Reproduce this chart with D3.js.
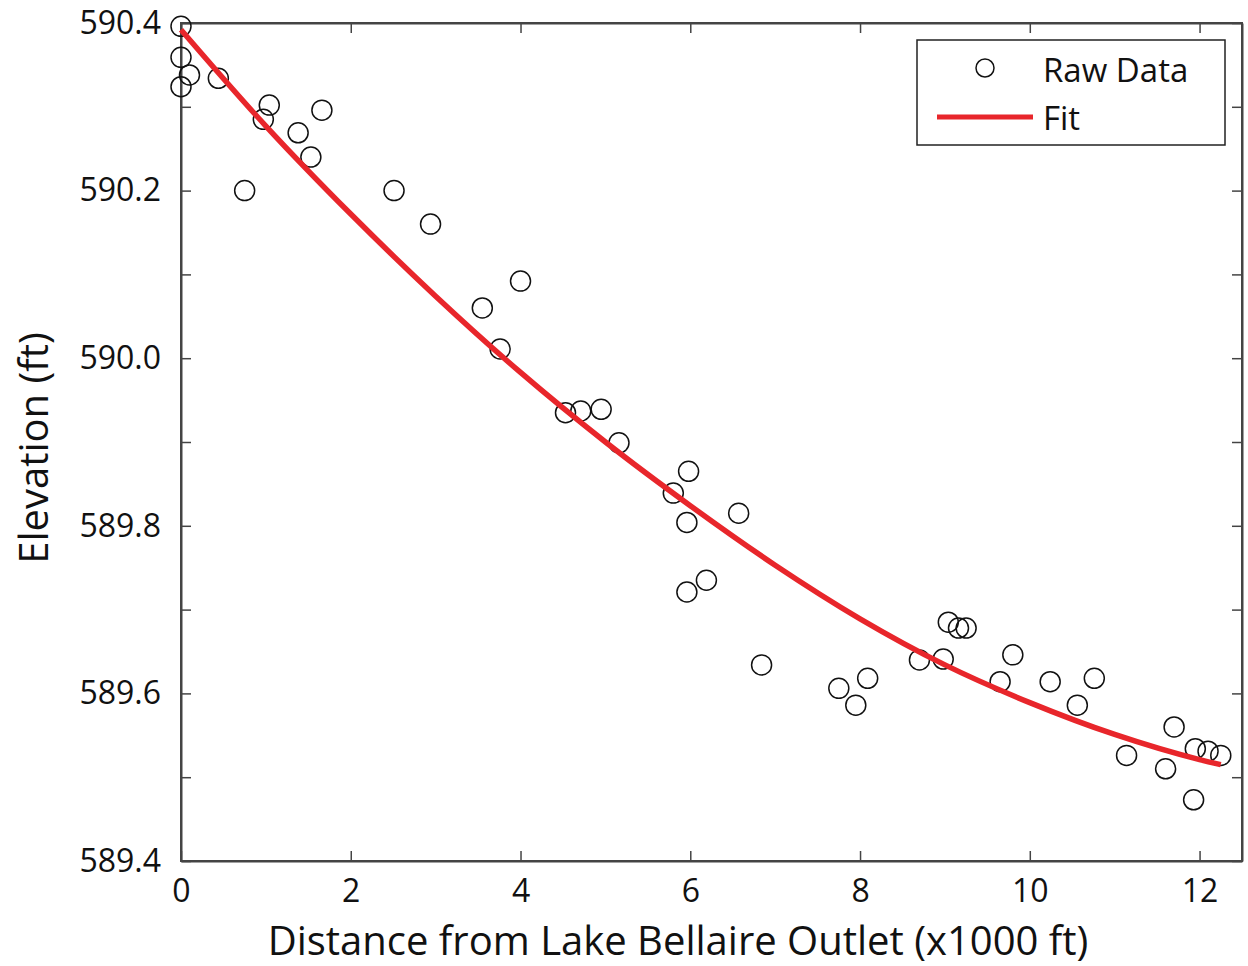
<!DOCTYPE html>
<html>
<head>
<meta charset="utf-8">
<script src="https://cdn.jsdelivr.net/npm/d3@7"></script>
<style>
  body { margin: 0; background: #fff; }
  svg { font-family: "Open Sans", "Noto Sans", sans-serif; }
</style>
</head>
<body>
<svg width="1248" height="966"></svg>
<script>
// Raw survey points (distance x1000 ft, elevation ft)
var rawX = [0, 0, 0.1, 0, 0.44, 1.04, 0.97, 0.75, 1.38, 1.53, 1.66, 2.51, 2.94,
    4.0, 3.55, 3.76, 4.53, 4.71, 4.95, 5.16, 5.8, 5.98, 5.96, 6.57, 5.96, 6.19,
    6.84, 7.75, 7.95, 8.09, 8.7, 8.98, 9.04, 9.16, 9.25, 9.65, 9.8, 10.24, 10.56, 10.76,
    11.14, 11.6, 11.7, 11.93, 11.95, 12.1, 12.25];
var rawY = [590.396, 590.359, 590.338, 590.324, 590.334, 590.302, 590.285, 590.200, 590.269, 590.240, 590.296, 590.200, 590.160,
    590.092, 590.060, 590.011, 589.935, 589.937, 589.939, 589.899, 589.839, 589.865, 589.804, 589.815, 589.721, 589.735,
    589.634, 589.606, 589.586, 589.618, 589.640, 589.641, 589.685, 589.678, 589.678, 589.614, 589.646, 589.614, 589.586, 589.618,
    589.526, 589.510, 589.560, 589.473, 589.534, 589.531, 589.526];

// Fit curve
var fitX = [0, 1, 2, 3, 4, 5, 6, 7, 8, 9, 10, 11, 12, 12.25];
var fitY = [590.392, 590.277, 590.172, 590.074, 589.983, 589.900, 589.824, 589.753, 589.689, 589.634, 589.589, 589.551, 589.521, 589.515];

var xTicks = [0, 2, 4, 6, 8, 10, 12];
var yTicks = [589.4, 589.5, 589.6, 589.7, 589.8, 589.9, 590.0, 590.1, 590.2, 590.3, 590.4];
var yLabels = [589.4, 589.6, 589.8, 590.0, 590.2, 590.4];

var svg = d3.select("svg");
var mLeft = 181, mRight = 1242, mTop = 23, mBottom = 861;

var xScale = d3.scaleLinear().domain([0, 12.5]).range([mLeft, mRight]);
var yScale = d3.scaleLinear().domain([589.4, 590.4]).range([mBottom, mTop]);

var axisColor = "#444";
var tickLen = 10;

// axes (inward ticks, mirrored on top and right)
var gB = svg.append("g").attr("transform", "translate(0," + mBottom + ")")
    .call(d3.axisBottom(xScale).tickValues(xTicks).tickSizeInner(-tickLen).tickSizeOuter(0).tickPadding(18)
        .tickFormat(d3.format("d")));
var gT = svg.append("g").attr("transform", "translate(0," + mTop + ")")
    .call(d3.axisTop(xScale).tickValues(xTicks).tickSizeInner(-tickLen).tickSizeOuter(0).tickFormat(""));
var gL = svg.append("g").attr("transform", "translate(" + mLeft + ",0)")
    .call(d3.axisLeft(yScale).tickValues(yTicks).tickSizeInner(-tickLen).tickSizeOuter(0).tickPadding(20)
        .tickFormat(function(d) { return yLabels.some(function(v) { return Math.abs(v - d) < 1e-6; }) ? d.toFixed(1) : ""; }));
var gR = svg.append("g").attr("transform", "translate(" + mRight + ",0)")
    .call(d3.axisRight(yScale).tickValues(yTicks).tickSizeInner(-tickLen).tickSizeOuter(0).tickFormat(""));

[gB, gT, gL, gR].forEach(function(g) {
    g.attr("font-family", null).attr("font-size", null);
    g.select(".domain").attr("stroke", axisColor).attr("stroke-width", 2);
    g.selectAll(".tick line").attr("stroke", axisColor).attr("stroke-width", 1.5);
    g.selectAll(".tick text").attr("fill", "#111").style("font-size", "32px");
});
// close the frame corners
svg.append("rect").attr("x", mLeft).attr("y", mTop).attr("width", mRight - mLeft).attr("height", mBottom - mTop)
    .attr("fill", "none").attr("stroke", axisColor).attr("stroke-width", 2);

// raw data circles
var pts = rawX.map(function(x, i) { return {x: x, y: rawY[i]}; });
svg.append("g").selectAll("circle")
    .data(pts)
    .enter().append("circle")
    .attr("cx", function(d) { return xScale(d.x); })
    .attr("cy", function(d) { return yScale(d.y); })
    .attr("r", 10)
    .attr("fill", "none")
    .attr("stroke", "#111")
    .attr("stroke-width", 1.5);

// fit line
var fit = fitX.map(function(x, i) { return [x, fitY[i]]; });
var line = d3.line()
    .x(function(d) { return xScale(d[0]); })
    .y(function(d) { return yScale(d[1]); })
    .curve(d3.curveMonotoneX);
svg.append("path")
    .datum(fit)
    .attr("d", line)
    .attr("fill", "none")
    .attr("stroke", "#e8262b")
    .attr("stroke-width", 5.5);

// axis titles
svg.append("text")
    .attr("x", 678).attr("y", 955)
    .attr("text-anchor", "middle")
    .style("font-size", "40px").attr("fill", "#111")
    .text("Distance from Lake Bellaire Outlet (x1000 ft)");
svg.append("text")
    .attr("transform", "translate(48," + 448 + ") rotate(-90)")
    .attr("text-anchor", "middle")
    .style("font-size", "40px").attr("fill", "#111")
    .text("Elevation (ft)");

// legend
var lg = svg.append("g");
lg.append("rect").attr("x", 917).attr("y", 40).attr("width", 308).attr("height", 105)
    .attr("fill", "#fff").attr("stroke", "#222").attr("stroke-width", 1.5);
lg.append("circle").attr("cx", 985).attr("cy", 68).attr("r", 9)
    .attr("fill", "none").attr("stroke", "#111").attr("stroke-width", 1.5);
lg.append("line").attr("x1", 937).attr("x2", 1033).attr("y1", 117).attr("y2", 117)
    .attr("stroke", "#e8262b").attr("stroke-width", 5);
lg.append("text").attr("x", 1043).attr("y", 82).style("font-size", "33px").attr("fill", "#111").text("Raw Data");
lg.append("text").attr("x", 1043).attr("y", 130).style("font-size", "33px").attr("fill", "#111").text("Fit");
</script>
</body>
</html>
